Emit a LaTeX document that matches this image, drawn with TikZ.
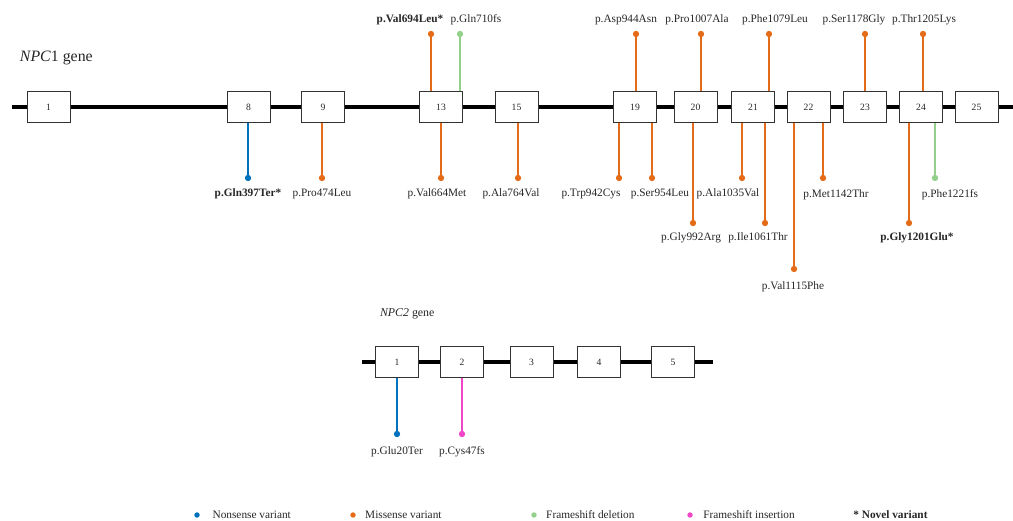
\documentclass[tikz,border=0pt]{standalone}
\usepackage{fontspec}
\setmainfont{Liberation Serif}
\usetikzlibrary{positioning}
\definecolor{nonsense}{RGB}{0,114,189}
\definecolor{missense}{RGB}{228,108,25}
\definecolor{fsdel}{RGB}{146,208,140}
\definecolor{fsins}{RGB}{240,70,200}

\begin{document}
\begin{tikzpicture}[
      x=0.884pt, y=-0.884pt,
      font=\fontsize{10}{12}\selectfont,
      text=black!85,
      gene/.style={line width=4.4pt},
      exon/.style={
        draw=black!80,
        fill=white,
        line width=0.8pt,
        inner sep=0pt,
        minimum width=38pt,
        minimum height=28pt,
        font=\fontsize{8.5}{10}\selectfont
      },
      dot/.style={circle, fill=#1, inner sep=0pt, minimum size=5.6pt},
      stem/.style={draw=#1, line width=1.2pt},
      varlabel/.style={inner sep=1pt},
      genename/.style={anchor=west, font=\fontsize{14}{16}\selectfont}
    ]

      \useasboundingbox (0,0) rectangle (1013,521);

      % NPC1
      \node[genename] (npc1) at (16,58) {\textit{NPC}1 gene};
      \coordinate (npc1start) at (12,107);
      \coordinate (npc1end) at (1013,107);
      \draw[gene] (npc1start) -- (npc1end);
      \foreach \n/\x in {1/48.5, 8/248.5, 9/323, 13/441, 15/516.5, 19/635,
                         20/695.5, 21/753, 22/808.5, 23/865, 24/921, 25/976.5}
        \node[exon] (e\n) at (\x,107) {\n};

      % variants above the gene
      \node[dot=missense] (v694) at (431,34) {} edge[stem=missense] (v694 |- e13.north);
      \node[varlabel] (t694) at (410,20) {\textbf{p.Val694Leu*}};
      \node[dot=fsdel] (v710) at (460,34) {} edge[stem=fsdel] (v710 |- e13.north);
      \node[varlabel] (t710) at (476,20) {p.Gln710fs};
      \node[dot=missense] (v944) at (636,34) {} edge[stem=missense] (v944 |- e19.north);
      \node[varlabel] (t944) at (626,20) {p.Asp944Asn};
      \node[dot=missense] (v1007) at (701,34) {} edge[stem=missense] (v1007 |- e20.north);
      \node[varlabel] (t1007) at (697,20) {p.Pro1007Ala};
      \node[dot=missense] (v1079) at (769,34) {} edge[stem=missense] (v1079 |- e21.north);
      \node[varlabel] (t1079) at (775,20) {p.Phe1079Leu};
      \node[dot=missense] (v1178) at (865,34) {} edge[stem=missense] (v1178 |- e23.north);
      \node[varlabel] (t1178) at (854,20) {p.Ser1178Gly};
      \node[dot=missense] (v1205) at (923,34) {} edge[stem=missense] (v1205 |- e24.north);
      \node[varlabel] (t1205) at (924,20) {p.Thr1205Lys};

      % variants below the gene
      \node[dot=nonsense] (v397) at (248,178) {} edge[stem=nonsense] (v397 |- e8.south);
      \node[varlabel] (t397) at (248,194) {\textbf{p.Gln397Ter*}};
      \node[dot=missense] (v474) at (322,178) {} edge[stem=missense] (v474 |- e9.south);
      \node[varlabel] (t474) at (322,194) {p.Pro474Leu};
      \node[dot=missense] (v664) at (441,178) {} edge[stem=missense] (v664 |- e13.south);
      \node[varlabel] (t664) at (437,194) {p.Val664Met};
      \node[dot=missense] (v764) at (518,178) {} edge[stem=missense] (v764 |- e15.south);
      \node[varlabel] (t764) at (511,194) {p.Ala764Val};
      \node[dot=missense] (v942) at (619,178) {} edge[stem=missense] (v942 |- e19.south);
      \node[varlabel] (t942) at (591,194) {p.Trp942Cys};
      \node[dot=missense] (v954) at (652,178) {} edge[stem=missense] (v954 |- e19.south);
      \node[varlabel] (t954) at (660,194) {p.Ser954Leu};
      \node[dot=missense] (v992) at (693,223) {} edge[stem=missense] (v992 |- e20.south);
      \node[varlabel] (t992) at (691,238) {p.Gly992Arg};
      \node[dot=missense] (v1035) at (742,178) {} edge[stem=missense] (v1035 |- e21.south);
      \node[varlabel] (t1035) at (728,194) {p.Ala1035Val};
      \node[dot=missense] (v1061) at (765,223) {} edge[stem=missense] (v1061 |- e21.south);
      \node[varlabel] (t1061) at (758,238) {p.Ile1061Thr};
      \node[dot=missense] (v1115) at (794,269) {} edge[stem=missense] (v1115 |- e22.south);
      \node[varlabel] (t1115) at (793,287) {p.Val1115Phe};
      \node[dot=missense] (v1142) at (823,178) {} edge[stem=missense] (v1142 |- e22.south);
      \node[varlabel] (t1142) at (836,195) {p.Met1142Thr};
      \node[dot=missense] (v1201) at (909,223) {} edge[stem=missense] (v1201 |- e24.south);
      \node[varlabel] (t1201) at (917,238) {\textbf{p.Gly1201Glu*}};
      \node[dot=fsdel] (v1221) at (935,178) {} edge[stem=fsdel] (v1221 |- e24.south);
      \node[varlabel] (t1221) at (950,195) {p.Phe1221fs};

      % NPC2
      \node[genename, font=\fontsize{10.5}{12}\selectfont] (npc2) at (376,314) {\textit{NPC2} gene};
      \coordinate (npc2start) at (362,362);
      \coordinate (npc2end) at (713,362);
      \draw[gene] (npc2start) -- (npc2end);
      \foreach \n/\x in {1/397, 2/462, 3/531.5, 4/599, 5/673}
        \node[exon, minimum height=27pt] (f\n) at (\x,362) {\n};

      \node[dot=nonsense] (w20) at (397,434) {} edge[stem=nonsense] (w20 |- f1.south);
      \node[varlabel] (u20) at (397,452) {p.Glu20Ter};
      \node[dot=fsins] (w47) at (462,434) {} edge[stem=fsins] (w47 |- f2.south);
      \node[varlabel] (u47) at (462,452) {p.Cys47fs};

      % legend
      \node[dot=nonsense, minimum size=4.8pt] (knon) at (197,515) {};
      \node[varlabel, right=10pt of knon] (lnon) {Nonsense variant};
      \node[dot=missense, minimum size=4.8pt] (kmis) at (353,515) {};
      \node[varlabel, right=7pt of kmis] (lmis) {Missense variant};
      \node[dot=fsdel, minimum size=4.8pt] (kdel) at (534,515) {};
      \node[varlabel, right=7pt of kdel] (ldel) {Frameshift deletion};
      \node[dot=fsins, minimum size=4.8pt] (kins) at (690,515) {};
      \node[varlabel, right=8pt of kins] (lins) {Frameshift insertion};
      \node[varlabel, anchor=west] (lnov) at (852,515) {\textbf{* Novel variant}};
    \end{tikzpicture}
\end{document}
